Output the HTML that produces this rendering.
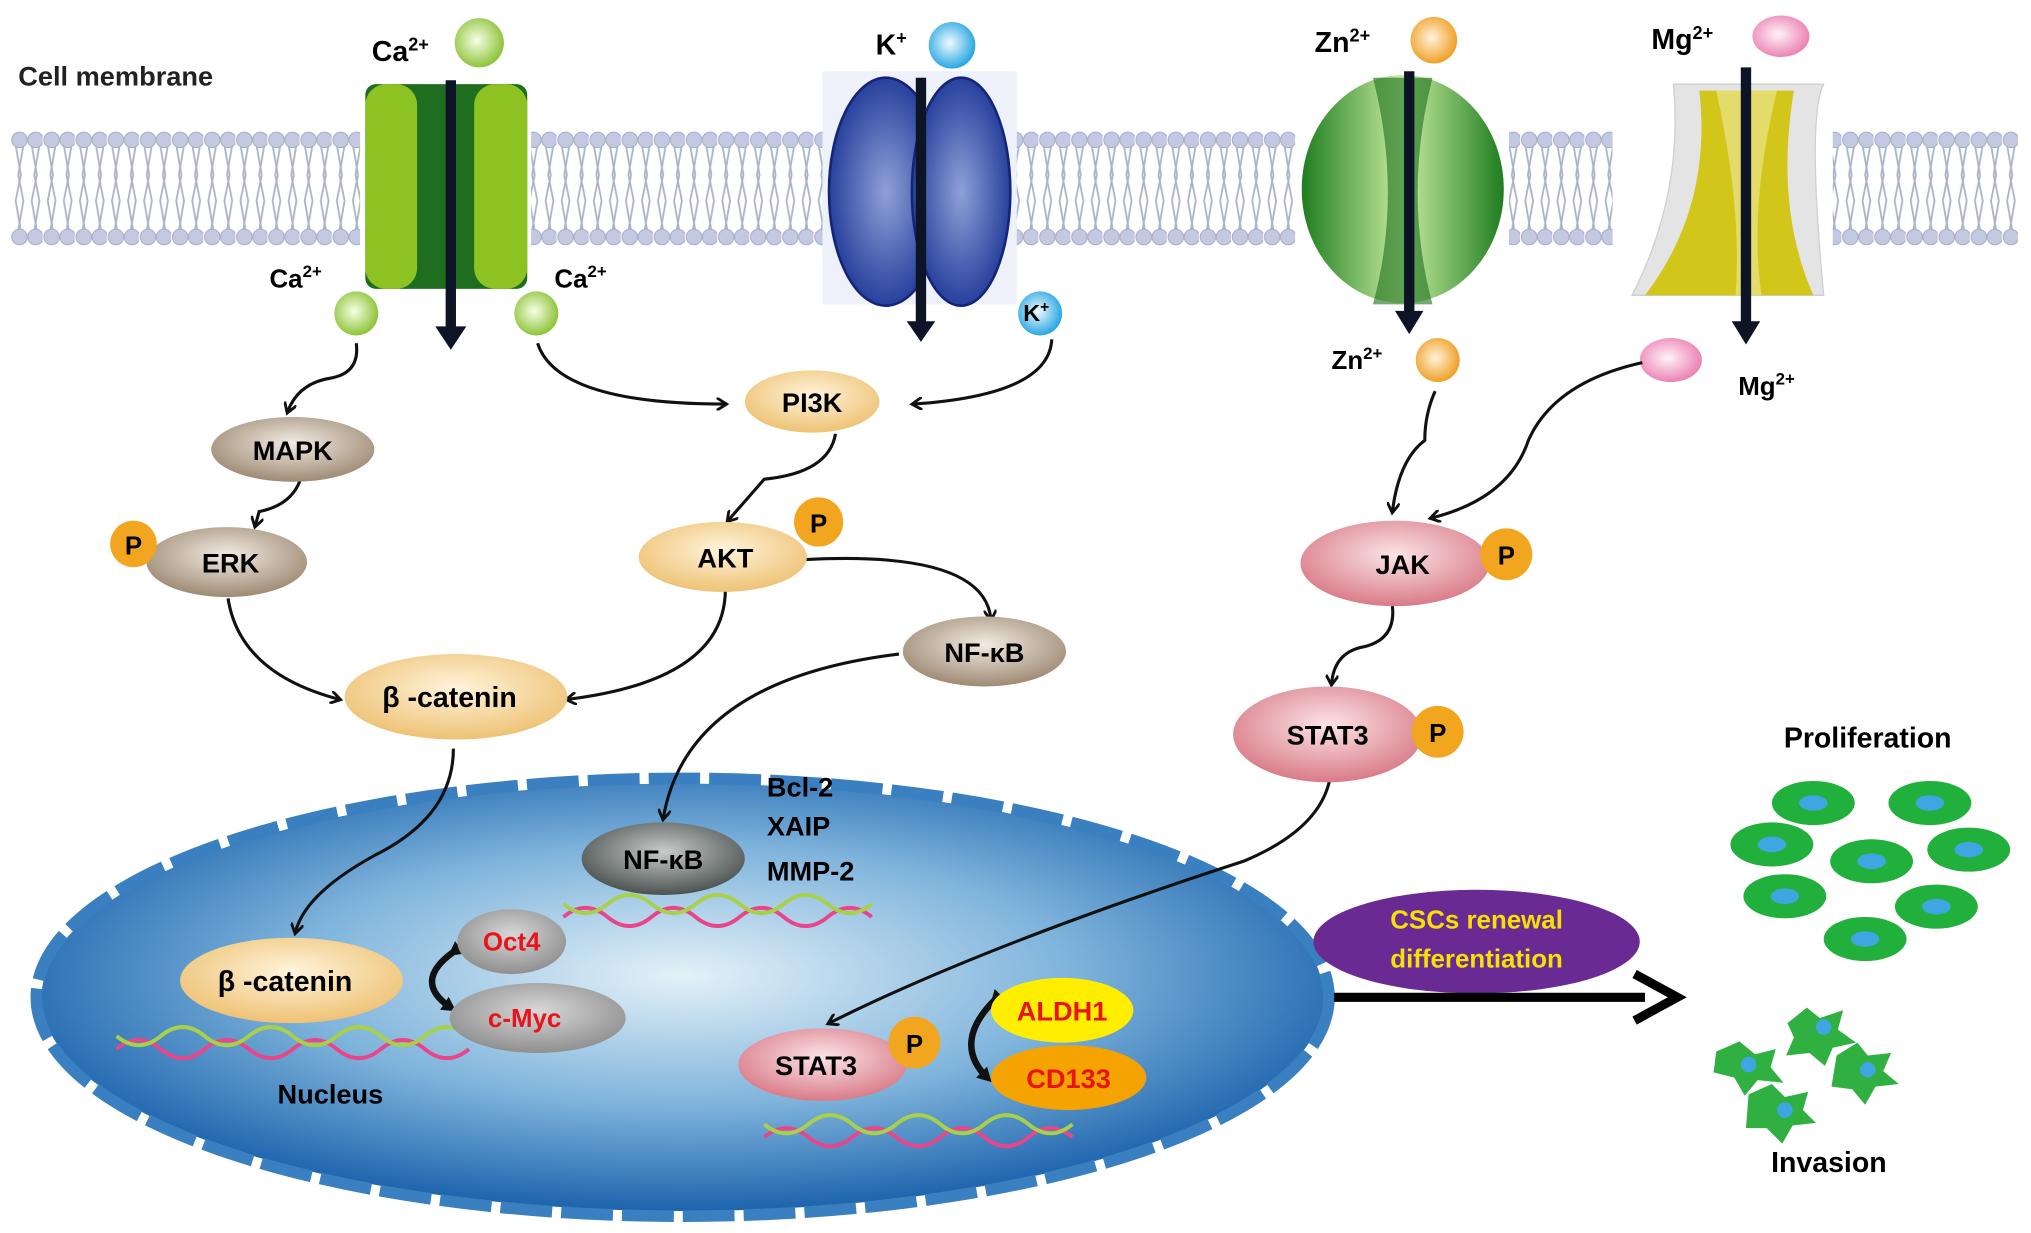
<!DOCTYPE html>
<html><head><meta charset="utf-8"><style>
html,body{margin:0;padding:0;background:#fff;}
svg{display:block;font-family:"Liberation Sans",Arial,sans-serif;font-weight:bold;}
</style></head><body>
<svg width="2031" height="1233" viewBox="0 0 1568 952" xmlns="http://www.w3.org/2000/svg">
<defs>
<pattern id="lip" x="8" y="0" width="24.8" height="952" patternUnits="userSpaceOnUse">
 <g stroke="#a9b4c8" stroke-width="1.4" fill="none">
  <path d="M4 112 L8 135 L4 155 L8 178"/><path d="M10 112 L6 135 L10 155 L6 178"/>
  <path d="M16.4 112 L20.4 135 L16.4 155 L20.4 178"/><path d="M22.4 112 L18.4 135 L22.4 155 L18.4 178"/>
 </g>
 <g fill="#c2c9e0" stroke="#a5afca" stroke-width="0.8">
  <circle cx="7" cy="108" r="6"/><circle cx="19.4" cy="108" r="6"/>
  <circle cx="7" cy="183" r="6"/><circle cx="19.4" cy="183" r="6"/>
 </g>
</pattern>
<radialGradient id="nuc" cx="0.5" cy="0.45" r="0.55"><stop offset="0" stop-color="#e4f1f8"/><stop offset="0.55" stop-color="#7fb4dc"/><stop offset="1" stop-color="#1d64ad"/></radialGradient>
<radialGradient id="org" cx="0.5" cy="0.4" r="0.6"><stop offset="0" stop-color="#fff4dc"/><stop offset="1" stop-color="#eec274"/></radialGradient>
<radialGradient id="brn" cx="0.5" cy="0.4" r="0.6"><stop offset="0" stop-color="#f2ebe2"/><stop offset="1" stop-color="#9e8a74"/></radialGradient>
<radialGradient id="pnk" cx="0.5" cy="0.4" r="0.6"><stop offset="0" stop-color="#fbe4e6"/><stop offset="1" stop-color="#d97b88"/></radialGradient>
<radialGradient id="gry" cx="0.5" cy="0.4" r="0.6"><stop offset="0" stop-color="#d8d8d8"/><stop offset="1" stop-color="#8f8f8f"/></radialGradient>
<radialGradient id="dgr" cx="0.5" cy="0.4" r="0.6"><stop offset="0" stop-color="#c8ccca"/><stop offset="1" stop-color="#4b5250"/></radialGradient>
<radialGradient id="grn" cx="0.45" cy="0.45" r="0.55"><stop offset="0" stop-color="#f6ffe8"/><stop offset="1" stop-color="#8fc43a"/></radialGradient>
<radialGradient id="blu" cx="0.45" cy="0.45" r="0.55"><stop offset="0" stop-color="#f0fbff"/><stop offset="1" stop-color="#2aa7e2"/></radialGradient>
<radialGradient id="orn" cx="0.45" cy="0.45" r="0.55"><stop offset="0" stop-color="#fff3dc"/><stop offset="1" stop-color="#f0a028"/></radialGradient>
<radialGradient id="mgp" cx="0.45" cy="0.45" r="0.55"><stop offset="0" stop-color="#fff3f8"/><stop offset="1" stop-color="#ec83b4"/></radialGradient>
<radialGradient id="kch" cx="0.5" cy="0.5" r="0.55"><stop offset="0" stop-color="#8fa0d8"/><stop offset="1" stop-color="#1d3796"/></radialGradient>
<linearGradient id="zn" x1="0" x2="1"><stop offset="0" stop-color="#1f7d1f"/><stop offset="0.5" stop-color="#c8eca0"/><stop offset="1" stop-color="#1f7d1f"/></linearGradient>
<marker id="ah" markerWidth="10" markerHeight="10" refX="7" refY="5" orient="auto" markerUnits="userSpaceOnUse"><path d="M0 0 L8 5 L0 10" fill="none" stroke="#111" stroke-width="2.2"/></marker>
<marker id="ahb" markerWidth="14" markerHeight="14" refX="6" refY="7" orient="auto" markerUnits="userSpaceOnUse"><path d="M0 1 L11 7 L0 13 Z" fill="#111"/></marker>
</defs>

<!-- membrane -->
<rect x="8" y="95" width="1550" height="100" fill="url(#lip)"/>
<text x="14" y="66" font-size="21" fill="#222">Cell membrane</text>

<!-- Ca channel -->
<rect x="278" y="60" width="132" height="165" fill="#fff"/>
<rect x="282" y="65" width="125" height="158" rx="8" fill="#1f6e1f"/>
<rect x="282" y="65" width="40" height="158" rx="16" fill="#8cc221"/>
<rect x="366" y="65" width="41" height="158" rx="16" fill="#8cc221"/>
<!-- K channel -->
<rect x="635" y="55" width="150" height="180" fill="#eef0fa"/>
<ellipse cx="684" cy="148" rx="44" ry="88" fill="url(#kch)" stroke="#14247a" stroke-width="2"/>
<ellipse cx="742" cy="148" rx="38" ry="88" fill="url(#kch)" stroke="#14247a" stroke-width="2"/>
<!-- Zn channel -->
<rect x="1000" y="55" width="165" height="185" fill="#fff"/>
<ellipse cx="1083" cy="146" rx="78" ry="88" fill="url(#zn)"/>
<path d="M1060 60 Q1083 150 1060 235 L1106 235 Q1083 150 1106 60 Z" fill="#1a6e1a" opacity="0.6"/>
<!-- Mg channel -->
<rect x="1245" y="55" width="170" height="180" fill="#fff"/>
<path d="M1292 65 L1408 65 Q1395 90 1408 228 L1260 228 Q1300 150 1292 65 Z" fill="#e4e4e4" stroke="#cfcfcf"/>
<path d="M1312 70 L1385 70 Q1370 160 1400 228 L1270 228 Q1322 160 1312 70 Z" fill="#d2c61a"/>
<path d="M1325 70 L1372 70 Q1350 160 1360 228 L1340 228 Q1345 160 1325 70 Z" fill="#eee9a0" opacity="0.6"/>

<!-- channel arrows -->
<g stroke="#0c1426" stroke-width="8">
<line x1="348" y1="62" x2="348" y2="255"/><line x1="711" y1="60" x2="711" y2="250"/>
<line x1="1088" y1="55" x2="1088" y2="243"/><line x1="1348" y1="52" x2="1348" y2="250"/></g>
<g fill="#0c1426"><path d="M336 252 L360 252 L348 270Z"/><path d="M700 248 L722 248 L711 264Z"/><path d="M1077 240 L1099 240 L1088 258Z"/><path d="M1337 248 L1359 248 L1348 266Z"/></g>

<!-- ions -->
<circle cx="370" cy="33" r="19" fill="url(#grn)"/><text x="287" y="47" font-size="22">Ca<tspan font-size="14" dy="-8">2+</tspan></text>
<circle cx="275" cy="242" r="17" fill="url(#grn)"/><text x="208" y="222" font-size="20">Ca<tspan font-size="13" dy="-8">2+</tspan></text>
<circle cx="414" cy="242" r="17" fill="url(#grn)"/><text x="428" y="222" font-size="20">Ca<tspan font-size="13" dy="-8">2+</tspan></text>
<circle cx="735" cy="35" r="18" fill="url(#blu)"/><text x="676" y="42" font-size="22">K<tspan font-size="14" dy="-8">+</tspan></text>
<circle cx="803" cy="242" r="17" fill="url(#blu)"/><text x="790" y="248" font-size="18">K<tspan font-size="12" dy="-7">+</tspan></text>
<circle cx="1107" cy="31" r="18" fill="url(#orn)"/><text x="1015" y="40" font-size="22">Zn<tspan font-size="14" dy="-8">2+</tspan></text>
<circle cx="1110" cy="278" r="17" fill="url(#orn)"/><text x="1028" y="285" font-size="20">Zn<tspan font-size="13" dy="-8">2+</tspan></text>
<ellipse cx="1375" cy="28" rx="22" ry="16" fill="url(#mgp)"/><text x="1275" y="38" font-size="22">Mg<tspan font-size="14" dy="-8">2+</tspan></text>
<ellipse cx="1290" cy="278" rx="24" ry="17" fill="url(#mgp)"/><text x="1342" y="305" font-size="20">Mg<tspan font-size="13" dy="-8">2+</tspan></text>

<!-- nucleus -->
<ellipse cx="527" cy="770" rx="495" ry="165" fill="url(#nuc)"/>
<ellipse cx="527" cy="770" rx="499" ry="169" fill="none" stroke="#3a7fbf" stroke-width="9" stroke-dasharray="40 7"/>
<!-- dna -->
<g fill="none" stroke-width="3">
<path d="M90 810 q17 -14 34 0 t34 0 t34 0 t34 0 t34 0 t34 0 t34 0 t34 0" stroke="#e9458b"/>
<path d="M90 800 q17 14 34 0 t34 0 t34 0 t34 0 t34 0 t34 0 t34 0 t34 0" stroke="#a8d048"/>
<path d="M435 708 q17 -14 34 0 t34 0 t34 0 t34 0 t34 0 t34 0 t34 0" stroke="#e9458b"/>
<path d="M435 698 q17 14 34 0 t34 0 t34 0 t34 0 t34 0 t34 0 t34 0" stroke="#a8d048"/>
<path d="M590 878 q17 -14 34 0 t34 0 t34 0 t34 0 t34 0 t34 0 t34 0" stroke="#e9458b"/>
<path d="M590 868 q17 14 34 0 t34 0 t34 0 t34 0 t34 0 t34 0 t34 0" stroke="#a8d048"/>
</g>

<!-- connectors -->
<g fill="none" stroke="#111" stroke-width="2.4" marker-end="url(#ah)">
<path d="M275 265 Q278 288 255 292 Q230 296 222 318"/>
<path d="M415 265 Q430 312 560 312"/>
<path d="M812 262 Q810 305 705 312"/>
<path d="M232 370 Q225 390 200 395 L197 406"/>
<path d="M645 335 Q640 365 590 370 L562 402"/>
<path d="M176 462 Q185 520 262 540"/>
<path d="M560 455 Q560 525 438 540"/>
<path d="M622 432 Q760 425 765 478"/>
<path d="M694 505 Q530 525 512 632"/>
<path d="M350 578 Q350 630 290 660 Q235 690 228 720"/>
<path d="M1108 302 Q1100 320 1100 340 Q1080 355 1075 395"/>
<path d="M1268 280 Q1200 295 1180 340 Q1165 385 1105 400"/>
<path d="M1075 468 Q1078 495 1050 500 Q1030 505 1028 528"/>
<path d="M1027 600 Q1020 640 960 665 Q760 730 640 790"/>
</g>
<g fill="none" stroke="#111" stroke-width="5">
<path d="M350 735 Q318 758 348 778" marker-end="url(#ahb)" marker-start="url(#ahb)"/>
<path d="M768 772 Q735 805 762 832" marker-end="url(#ahb)" marker-start="url(#ahb)"/>
</g>

<!-- cytoplasm nodes -->
<ellipse cx="226" cy="347" rx="63" ry="25" fill="url(#brn)"/><text x="226" y="355" font-size="21" text-anchor="middle">MAPK</text>
<ellipse cx="175" cy="434" rx="62" ry="27" fill="url(#brn)"/><text x="178" y="442" font-size="21" text-anchor="middle">ERK</text>
<circle cx="103" cy="420" r="18" fill="#f2a51f"/><text x="103" y="428" font-size="20" text-anchor="middle">P</text>
<ellipse cx="627" cy="310" rx="52" ry="24" fill="url(#org)"/><text x="627" y="318" font-size="21" text-anchor="middle">PI3K</text>
<ellipse cx="558" cy="430" rx="65" ry="27" fill="url(#org)"/><text x="560" y="438" font-size="21" text-anchor="middle">AKT</text>
<circle cx="632" cy="403" r="19" fill="#f2a51f"/><text x="632" y="411" font-size="20" text-anchor="middle">P</text>
<ellipse cx="760" cy="503" rx="63" ry="27" fill="url(#brn)"/><text x="760" y="511" font-size="21" text-anchor="middle">NF-κB</text>
<ellipse cx="352" cy="538" rx="86" ry="33" fill="url(#org)"/><text x="347" y="546" font-size="22" text-anchor="middle">β -catenin</text>
<ellipse cx="1077" cy="435" rx="73" ry="33" fill="url(#pnk)"/><text x="1083" y="443" font-size="21" text-anchor="middle">JAK</text>
<circle cx="1163" cy="428" r="20" fill="#f2a51f"/><text x="1163" y="436" font-size="20" text-anchor="middle">P</text>
<ellipse cx="1025" cy="567" rx="73" ry="37" fill="url(#pnk)"/><text x="1025" y="575" font-size="21" text-anchor="middle">STAT3</text>
<circle cx="1110" cy="565" r="20" fill="#f2a51f"/><text x="1110" y="573" font-size="20" text-anchor="middle">P</text>

<!-- nucleus nodes -->
<ellipse cx="512" cy="663" rx="63" ry="28" fill="url(#dgr)"/><text x="512" y="671" font-size="21" text-anchor="middle">NF-κB</text>
<text x="592" y="615" font-size="21">Bcl-2</text><text x="592" y="645" font-size="21">XAIP</text><text x="592" y="680" font-size="21">MMP-2</text>
<ellipse cx="225" cy="757" rx="86" ry="33" fill="url(#org)"/><text x="220" y="765" font-size="22" text-anchor="middle">β -catenin</text>
<ellipse cx="395" cy="727" rx="42" ry="25" fill="url(#gry)"/><text x="395" y="734" font-size="20" fill="#e8131b" text-anchor="middle">Oct4</text>
<ellipse cx="415" cy="786" rx="68" ry="27" fill="url(#gry)"/><text x="405" y="793" font-size="20" fill="#e8131b" text-anchor="middle">c-Myc</text>
<text x="255" y="852" font-size="21" text-anchor="middle">Nucleus</text>
<ellipse cx="635" cy="822" rx="65" ry="28" fill="url(#pnk)"/><text x="630" y="830" font-size="21" text-anchor="middle">STAT3</text>
<circle cx="706" cy="805" r="20" fill="#f2a51f"/><text x="706" y="813" font-size="20" text-anchor="middle">P</text>
<ellipse cx="820" cy="780" rx="55" ry="25" fill="#ffee00"/><text x="820" y="788" font-size="21" fill="#e8131b" text-anchor="middle">ALDH1</text>
<ellipse cx="825" cy="832" rx="60" ry="25" fill="#f5a300"/><text x="825" y="840" font-size="21" fill="#e8131b" text-anchor="middle">CD133</text>

<!-- CSCs -->
<ellipse cx="1140" cy="727" rx="126" ry="40" fill="#6a2a94"/>
<text x="1140" y="717" font-size="20" fill="#f8e000" text-anchor="middle">CSCs renewal</text>
<text x="1140" y="747" font-size="20" fill="#f8e000" text-anchor="middle">differentiation</text>
<line x1="1030" y1="770" x2="1270" y2="770" stroke="#000" stroke-width="7"/>
<path d="M1262 752 L1295 770 L1262 788" fill="none" stroke="#000" stroke-width="7"/>

<!-- proliferation -->
<text x="1442" y="577" font-size="22" text-anchor="middle">Proliferation</text>
<g fill="#22b03c">
<ellipse cx="1400" cy="620" rx="32" ry="17"/><ellipse cx="1490" cy="620" rx="32" ry="17"/>
<ellipse cx="1368" cy="652" rx="32" ry="17"/><ellipse cx="1445" cy="665" rx="32" ry="17"/><ellipse cx="1520" cy="656" rx="32" ry="17"/>
<ellipse cx="1378" cy="692" rx="32" ry="17"/><ellipse cx="1495" cy="700" rx="32" ry="17"/><ellipse cx="1440" cy="725" rx="32" ry="17"/>
</g>
<g fill="#3fa6e2">
<ellipse cx="1400" cy="620" rx="11" ry="6"/><ellipse cx="1490" cy="620" rx="11" ry="6"/>
<ellipse cx="1368" cy="652" rx="11" ry="6"/><ellipse cx="1445" cy="665" rx="11" ry="6"/><ellipse cx="1520" cy="656" rx="11" ry="6"/>
<ellipse cx="1378" cy="692" rx="11" ry="6"/><ellipse cx="1495" cy="700" rx="11" ry="6"/><ellipse cx="1440" cy="725" rx="11" ry="6"/>
</g>
<!-- invasion -->
<g fill="#2fb040">
<path d="M1380 790 l15 -12 l10 8 l18 -6 l-4 15 l14 10 l-18 4 l-6 14 l-12 -10 l-18 2 l6 -14 z"/>
<path d="M1325 812 l18 -8 l12 10 l16 -4 l-4 14 l10 12 l-20 -2 l-10 12 l-8 -14 l-16 -4 z"/>
<path d="M1418 815 l16 -10 l8 10 l18 -2 l-6 14 l12 10 l-18 2 l-8 14 l-10 -12 l-16 -2 z"/>
<path d="M1350 845 l18 -8 l10 10 l18 -4 l-4 14 l10 10 l-18 2 l-8 14 l-12 -12 l-16 0 z"/>
</g>
<g fill="#3fa6e2"><circle cx="1408" cy="793" r="6"/><circle cx="1350" cy="822" r="6"/><circle cx="1442" cy="826" r="6"/><circle cx="1378" cy="857" r="6"/></g>
<text x="1412" y="905" font-size="22" text-anchor="middle">Invasion</text>
</svg>
</body></html>
